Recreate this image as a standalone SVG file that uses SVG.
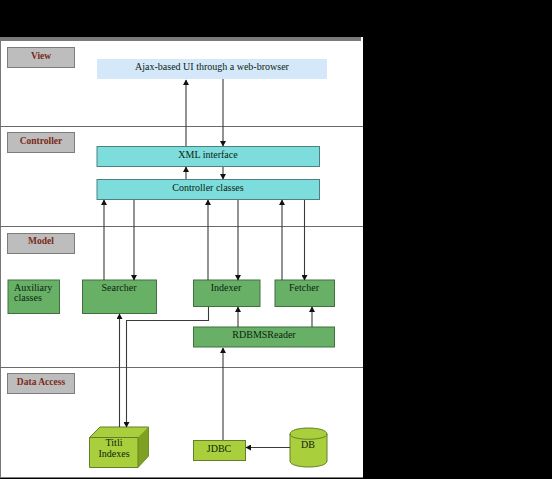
<svg xmlns="http://www.w3.org/2000/svg" width="552" height="479" viewBox="0 0 552 479">
<style>
text{font-family:"Liberation Serif",serif;font-size:10px;fill:#0c2410;text-anchor:middle}
text.lab{fill:#7a2a18;font-weight:bold;font-size:9.500px}
.lb rect{fill:#bdbdbd;stroke:#7c7c7c;stroke-width:1}
.cy rect{fill:#7ddcdc;stroke:#4f8080;stroke-width:1}
.gr rect{fill:#68b066;stroke:#3f7040;stroke-width:1}
.lm{fill:#a9cf3c;stroke:#62802a;stroke-width:1}
#connectors line,#connectors polyline{stroke:#3a3a3a;stroke-width:1.100;fill:none}
#dividers line{stroke:#6a6a6a;stroke-width:1}
</style>
<defs><marker id="a" markerWidth="6" markerHeight="6" refX="5" refY="3" orient="auto" markerUnits="userSpaceOnUse"><path d="M0 0L5.500 3L0 6Z" fill="#111"/></marker></defs>
<rect width="552" height="479" fill="#000"/>
<rect x="0" y="37" width="363" height="440.500" fill="#fff"/>
<rect x="0" y="37" width="361" height="4" fill="#7a7a7a"/>
<line x1="0.500" y1="41" x2="0.500" y2="477" stroke="#777"/>
<g id="dividers"><line x1="0" y1="126.500" x2="363" y2="126.500"/><line x1="0" y1="226.500" x2="363" y2="226.500"/><line x1="0" y1="367.500" x2="363" y2="367.500"/></g>
<g id="view" class="lb"><rect x="7.500" y="47.500" width="67" height="20"/><text class="lab" x="41" y="59">View</text></g>
<g id="controller" class="lb"><rect x="7.500" y="132.500" width="67" height="20"/><text class="lab" x="41" y="144">Controller</text></g>
<g id="model" class="lb"><rect x="7.500" y="233.500" width="67" height="20"/><text class="lab" x="41" y="244">Model</text></g>
<g id="data-access" class="lb"><rect x="7.500" y="373.500" width="67" height="20"/><text class="lab" x="41" y="385">Data Access</text></g>
<g id="ajax-ui"><rect x="97" y="59" width="230" height="20" fill="#d4e8fa"/><text x="212" y="70">Ajax-based UI through a web-browser</text></g>
<g id="xml-interface" class="cy"><rect x="97" y="146.500" width="222.500" height="20"/><text x="208" y="158">XML interface</text></g>
<g id="controller-classes" class="cy"><rect x="97" y="179.500" width="222.500" height="20"/><text x="208" y="191">Controller classes</text></g>
<g id="auxiliary" class="gr"><rect x="8" y="280" width="51.500" height="33.500"/><text style="text-anchor:start" x="14" y="291">Auxiliary</text><text style="text-anchor:start" x="14" y="301">classes</text></g>
<g id="searcher" class="gr"><rect x="82.500" y="280" width="74" height="33.500"/><text x="119" y="291">Searcher</text></g>
<g id="indexer" class="gr"><rect x="193.500" y="280" width="66.500" height="26.500"/><text x="226" y="291">Indexer</text></g>
<g id="fetcher" class="gr"><rect x="275" y="280" width="59.500" height="26.500"/><text x="304" y="291">Fetcher</text></g>
<g id="rdbms" class="gr"><rect x="193.500" y="327" width="141" height="20"/><text x="264" y="338">RDBMSReader</text></g>
<g id="titli"><path class="lm" d="M89.500 437.500L100 427H148.500V456L138 467.500H89.500Z"/><path d="M138 437.500L148.500 427V456L138 467.500Z" fill="#7fa020"/><path d="M89.500 437.500H138V467.500" fill="none" stroke="#62802a"/><text x="114" y="446">Titli</text><text x="114" y="457">Indexes</text></g>
<g id="jdbc"><rect class="lm" x="193.500" y="440.500" width="52" height="20"/><text x="219" y="452">JDBC</text></g>
<g id="db"><path class="lm" d="M290 434V461C290 469 327 469 327 461V434C327 426 290 426 290 434Z"/><path d="M290 434C290 441 327 441 327 434" fill="none" stroke="#62802a"/><text x="308" y="448">DB</text></g>
<g id="connectors">
<line x1="186" y1="146" x2="186" y2="80" marker-end="url(#a)"/>
<line x1="223" y1="79" x2="223" y2="146" marker-end="url(#a)"/>
<line x1="186" y1="179" x2="186" y2="167" marker-end="url(#a)"/>
<line x1="223" y1="167" x2="223" y2="179" marker-end="url(#a)"/>
<line x1="104" y1="280" x2="104" y2="200" marker-end="url(#a)"/>
<line x1="134" y1="200" x2="134" y2="280" marker-end="url(#a)"/>
<line x1="208" y1="280" x2="208" y2="200" marker-end="url(#a)"/>
<line x1="238" y1="200" x2="238" y2="280" marker-end="url(#a)"/>
<line x1="282" y1="280" x2="282" y2="200" marker-end="url(#a)"/>
<line x1="304.500" y1="200" x2="304.500" y2="280" marker-end="url(#a)"/>
<line x1="238" y1="327" x2="238" y2="307" marker-end="url(#a)"/>
<line x1="312" y1="327" x2="312" y2="307" marker-end="url(#a)"/>
<line x1="119.500" y1="427" x2="119.500" y2="314" marker-end="url(#a)"/>
<polyline points="208.500,307 208.500,320.500 126.500,320.500 126.500,427" marker-end="url(#a)"/>
<line x1="223" y1="440" x2="223" y2="348" marker-end="url(#a)"/>
<line x1="290" y1="447.500" x2="246" y2="447.500" marker-end="url(#a)"/>
</g>
</svg>
